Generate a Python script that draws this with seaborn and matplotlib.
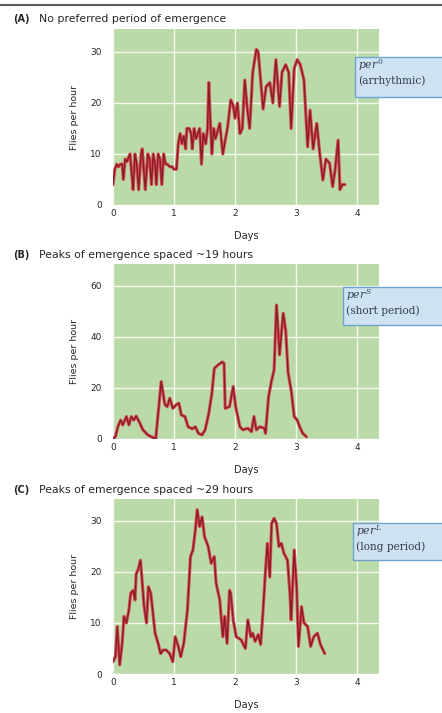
import numpy as np
import pandas as pd
import matplotlib
matplotlib.use("Agg")
import matplotlib.pyplot as plt
import matplotlib.patheffects as pe
from matplotlib.patches import Rectangle
from matplotlib.lines import Line2D
import seaborn as sns

# ---- per0 (arrhythmic) ----
days_a = [0.00, 0.03, 0.06, 0.09, 0.12, 0.15, 0.17, 0.20, 0.23, 0.26, 0.28, 0.30,
          0.33, 0.36, 0.39, 0.42, 0.46, 0.48, 0.51, 0.53, 0.57, 0.60, 0.63, 0.66,
          0.69, 0.71, 0.74, 0.77, 0.80, 0.83, 0.86, 0.89, 0.93, 0.97, 1.00, 1.04,
          1.07, 1.10, 1.13, 1.16, 1.19, 1.21, 1.25, 1.28, 1.30, 1.33, 1.36, 1.39,
          1.42, 1.45, 1.48, 1.52, 1.55, 1.57, 1.59, 1.62, 1.65, 1.68, 1.72, 1.75,
          1.80, 1.84, 1.88, 1.93, 1.97, 2.00, 2.04, 2.08, 2.12, 2.16, 2.20, 2.24,
          2.29, 2.35, 2.38, 2.42, 2.46, 2.51, 2.57, 2.62, 2.67, 2.73, 2.77, 2.83,
          2.88, 2.92, 2.97, 3.02, 3.07, 3.13, 3.19, 3.23, 3.28, 3.34, 3.39, 3.44,
          3.49, 3.55, 3.60, 3.64, 3.69, 3.72, 3.76, 3.80]
flies_a = [4, 7, 8, 7.5, 8, 8, 5, 9, 8.5, 9.5, 10, 7,
           3, 10, 8, 3, 10, 11, 6, 3, 10, 9, 4, 10,
           8, 4, 10, 9, 4, 10, 8, 8, 7.5, 7.5, 7, 7,
           12, 14, 12, 13.5, 11, 15, 15, 14, 11, 15, 13, 14,
           15, 8, 14, 12, 15, 24, 18, 10, 15, 13, 14.7, 16,
           10, 12.7, 15.4, 20.6, 19.5, 17, 20, 14, 15, 24.5, 19, 15,
           26, 30.5, 30, 24.5, 18.8, 23.2, 24, 20, 28.5, 19.3, 26, 27.5,
           26, 15, 26.8, 28.5, 27.5, 24.5, 11.4, 18.6, 11, 16, 10, 4.9,
           9, 8.2, 3.6, 6.9, 12.7, 3, 4, 4]

# ---- perS (short period) ----
days_b = [0.00, 0.04, 0.08, 0.125, 0.16, 0.22, 0.26, 0.30, 0.34, 0.38, 0.44, 0.49,
          0.57, 0.66, 0.70, 0.74, 0.79, 0.85, 0.89, 0.93, 0.98, 1.04, 1.08, 1.12,
          1.18, 1.23, 1.30, 1.35, 1.40, 1.46, 1.51, 1.57, 1.62, 1.66, 1.72, 1.79,
          1.82, 1.84, 1.91, 1.97, 2.01, 2.08, 2.13, 2.21, 2.27, 2.31, 2.35, 2.41,
          2.48, 2.50, 2.55, 2.60, 2.64, 2.68, 2.70, 2.73, 2.76, 2.79, 2.83, 2.87,
          2.92, 2.97, 3.02, 3.06, 3.11, 3.17]
flies_b = [0, 1, 4.8, 7.4, 5.5, 8.8, 5.5, 8.8, 7.4, 9, 6.2, 3.6,
           1.6, 0.5, 0, 10, 22.5, 13.5, 12.7, 16, 12, 13.5, 14, 9.4,
           8.8, 4.8, 4, 4.8, 2.2, 1.6, 3.6, 10, 17.8, 27.6, 29, 30.2,
           29.6, 12, 12.7, 20.6, 12.7, 4.8, 3.6, 4.2, 2.9, 8.8, 3.6, 4.8,
           4.2, 2.2, 16.6, 23, 27, 52.5, 45.4, 33, 41.4, 49.3, 42.7, 26,
           19.2, 8.8, 7.4, 4.8, 2.2, 0.9]

# ---- perL (long period) ----
days_c = [0.00, 0.04, 0.07, 0.11, 0.15, 0.18, 0.22, 0.26, 0.29, 0.33, 0.36, 0.38,
          0.41, 0.45, 0.48, 0.51, 0.55, 0.58, 0.62, 0.66, 0.69, 0.74, 0.78, 0.82,
          0.87, 0.93, 0.98, 1.02, 1.07, 1.11, 1.16, 1.22, 1.27, 1.31, 1.35, 1.38,
          1.42, 1.46, 1.50, 1.56, 1.61, 1.66, 1.69, 1.75, 1.80, 1.83, 1.87, 1.91,
          1.93, 1.97, 2.02, 2.10, 2.17, 2.21, 2.26, 2.29, 2.33, 2.38, 2.42, 2.46,
          2.50, 2.53, 2.57, 2.60, 2.64, 2.68, 2.72, 2.76, 2.80, 2.86, 2.90, 2.92,
          2.97, 3.01, 3.04, 3.09, 3.13, 3.19, 3.24, 3.29, 3.35, 3.40, 3.47]
flies_c = [2.4, 3.4, 9.3, 1.8, 6, 11.3, 10, 12.5, 15.8, 16.4, 14.5, 19.6,
           20.4, 22.3, 17.8, 13.2, 10, 17.1, 15.8, 11.3, 8, 6, 4, 4.7,
           4.7, 4, 2.4, 7.3, 5.4, 3.4, 6, 12.5, 23, 24.3, 28.2, 32.2,
           28.9, 30.8, 26.9, 25, 21.7, 23, 17.8, 14.5, 7.3, 11.3, 6, 16.4,
           15.8, 10.6, 7.3, 6.7, 5, 10.6, 7.3, 8, 6.4, 7.7, 5.8, 12.5,
           20.4, 25.6, 19, 29.5, 30.5, 29.5, 25, 25.6, 23.7, 22.3, 15.8, 10.6,
           24.3, 17.1, 5.4, 13.2, 10, 9.3, 5.4, 7.3, 8, 5.8, 4]

panel_letters = ["(A)", "(B)", "(C)"]
panel_titles = ["No preferred period of emergence",
                "Peaks of emergence spaced ~19 hours",
                "Peaks of emergence spaced ~29 hours"]
genotypes = ["0", "S", "L"]
phenotypes = ["(arrhythmic)", "(short period)", "(long period)"]
y_ticks = [[0, 10, 20, 30], [0, 20, 40, 60], [0, 10, 20, 30]]
y_tops = [34.5, 68.6, 34.3]
x_ticks = [0, 1, 2, 3, 4]

sns.set_theme(style="darkgrid", rc={
    "axes.facecolor": "#badba8",
    "grid.color": "#f4f8ee",
    "grid.linewidth": 1.0,
})
plt.rcParams["font.family"] = ["DejaVu Sans"]
plt.rcParams["mathtext.fontset"] = "custom"
plt.rcParams["mathtext.it"] = "DejaVu Serif:italic"
plt.rcParams["mathtext.rm"] = "DejaVu Serif"

W, H = 442, 713
fig = plt.figure(figsize=(W / 100, H / 100), dpi=100)
fig.patch.set_facecolor("white")

axes_px = [(29, 205), (264, 439), (499, 674)]   # top, bottom of each plot area
box_px = [(355, 57, 97), (343, 287, 325), (353, 523, 560)]
title_y = [19, 255, 490]

series = [(days_a, flies_a), (days_b, flies_b), (days_c, flies_c)]
line_color = "#8a1b25"
glow = [pe.Stroke(linewidth=2.3, foreground="#d5505a"), pe.Normal()]
text_gray = "#262626"
box_text = "#33405a"

for i, (d, f) in enumerate(series):
    top, bot = axes_px[i]
    ax = fig.add_axes([113 / W, 1 - bot / H, (379 - 113) / W, (bot - top) / H])
    df = pd.DataFrame({"Days": d, "Flies per hour": f})
    sns.lineplot(data=df, x="Days", y="Flies per hour", ax=ax,
                 color=line_color, linewidth=1.0, sort=False)
    ax.lines[-1].set_path_effects(glow)
    ax.set_xlim(0, 4.36)
    ax.set_ylim(0, y_tops[i])
    ax.set_xticks(x_ticks)
    ax.set_yticks(y_ticks[i])
    ax.tick_params(axis="both", length=0, labelsize=6.5, colors=text_gray)
    ax.tick_params(axis="x", pad=3)
    ax.tick_params(axis="y", pad=8)
    ax.set_xlabel("Days", fontsize=7, color=text_gray, labelpad=9)
    ax.set_ylabel("Flies per hour", fontsize=6.8, color=text_gray, labelpad=8)
    for s in ax.spines.values():
        s.set_visible(False)

    ty = 1 - title_y[i] / H
    fig.text(13 / W, ty, panel_letters[i], fontsize=7, fontweight="bold",
             color=text_gray, va="center", ha="left")
    fig.text(39 / W, ty, panel_titles[i], fontsize=7.8, color=text_gray,
             va="center", ha="left")

    bx, btop, bbot = box_px[i]
    fig.patches.append(Rectangle((bx / W, 1 - bbot / H), (W + 10 - bx) / W,
                                 (bbot - btop) / H, transform=fig.transFigure,
                                 facecolor="#cfe2f1", edgecolor="#6fa3cf",
                                 linewidth=1.0, zorder=3))
    fig.text((bx + 3) / W, 1 - (btop + 8) / H, r"$\mathit{per}^{%s}$" % genotypes[i],
             fontsize=7.8, color=box_text, va="center", ha="left", zorder=4)
    fig.text((bx + 3) / W, 1 - (btop + 24) / H, phenotypes[i],
             family="DejaVu Serif", fontsize=7.6, color=box_text,
             va="center", ha="left", zorder=4)

# rule across the top
fig.lines.append(Line2D([0, 1], [1 - 5 / H, 1 - 5 / H], transform=fig.transFigure,
                        color="#5a5a5a", linewidth=1.5))

fig.savefig("out.png", dpi=100)
